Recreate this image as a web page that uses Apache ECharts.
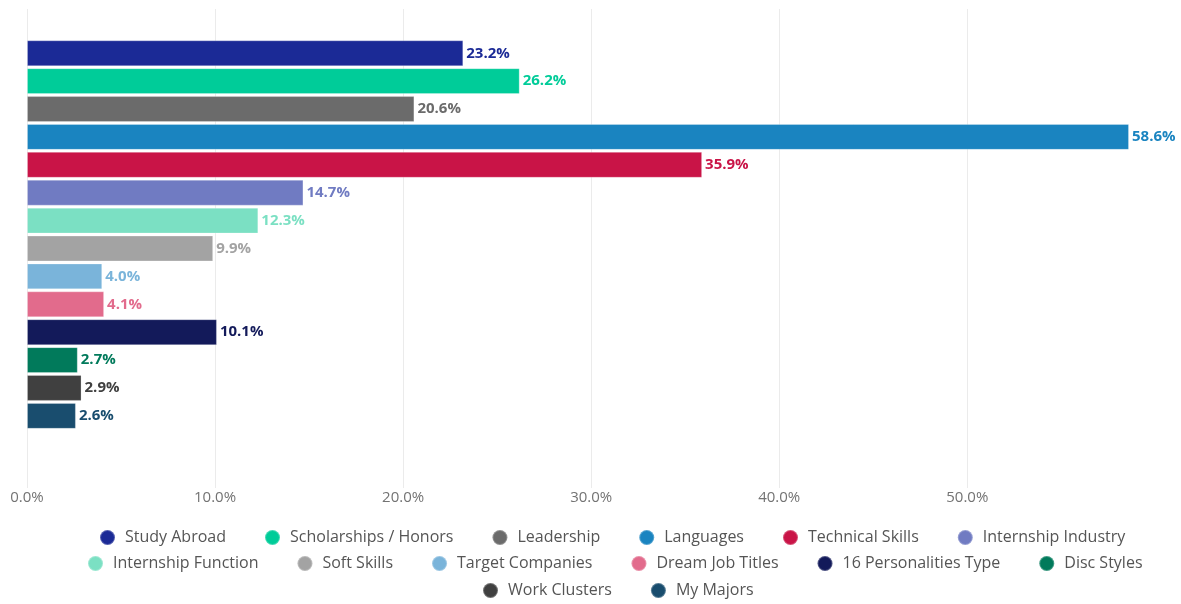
<!DOCTYPE html>
<html>
<head>
<meta charset="utf-8">
<script src="https://cdn.jsdelivr.net/npm/echarts@6/dist/echarts.min.js"></script>
<style>
html,body{margin:0;padding:0;background:#fff;}
#chart{width:1181px;height:604px;}
</style>
</head>
<body>
<div id="chart"></div>
<script>
const seriesNames = ['Study Abroad','Scholarships / Honors','Leadership','Languages','Technical Skills','Internship Industry','Internship Function','Soft Skills','Target Companies','Dream Job Titles','16 Personalities Type','Disc Styles','Work Clusters','My Majors'];
const seriesValues = [23.2, 26.2, 20.6, 58.6, 35.9, 14.7, 12.3, 9.9, 4.0, 4.1, 10.1, 2.7, 2.9, 2.6];
const seriesColors = ['#1b2a96','#00cc99','#6b6b6b','#1a84c0','#c91447','#707bc2','#7be0c3','#a3a3a3','#7ab4da','#e26b8c','#131a5a','#017a5b','#404040','#194d6e'];
const legendRows = [
  ['Study Abroad','Scholarships / Honors','Leadership','Languages','Technical Skills','Internship Industry'],
  ['Internship Function','Soft Skills','Target Companies','Dream Job Titles','16 Personalities Type','Disc Styles'],
  ['Work Clusters','My Majors']
];
const xTickStep = 10;

const FONT = '"Open Sans", "Noto Sans", sans-serif';
const chart = echarts.init(document.getElementById('chart'));

const series = seriesNames.map((name, i) => ({
  name: name,
  type: 'bar',
  data: [seriesValues[i]],
  barWidth: 25.9,
  barGap: '7.7%',
  itemStyle: { color: seriesColors[i], borderColor: 'rgba(255,255,255,0.25)', borderWidth: 1 },
  label: {
    show: true,
    position: 'right',
    distance: 3,
    formatter: p => p.value.toFixed(1) + '%',
    color: seriesColors[i],
    fontFamily: FONT,
    fontWeight: 'bold',
    fontSize: 15
  }
}));
// empty spacer slot (no legend entry)
series.push({ name: '_spacer', type: 'bar', data: [null], barWidth: 25.9, barGap: '7.7%', silent: true, itemStyle:{color:'transparent'} });

const legendLefts = [99, 87, 482];
const legendTops = [529, 555, 582];
const legends = legendRows.map((row, r) => ({
  data: row,
  left: legendLefts[r],
  top: legendTops[r],
  orient: 'horizontal',
  icon: 'circle',
  itemWidth: 25,
  itemHeight: 15,
  itemGap: 38,
  padding: 0,
  textStyle: { fontFamily: FONT, fontSize: 16, color: '#555555' }
}));

chart.setOption({
  animation: false,
  backgroundColor: '#ffffff',
  color: seriesColors,
  grid: { left: 27, right: 52, top: 9, height: 479, containLabel: false },
  legend: legends,
  xAxis: {
    type: 'value',
    min: 0,
    max: 'dataMax',
    interval: xTickStep,
    axisLine: { show: false },
    axisTick: { show: false },
    axisLabel: {
      formatter: v => v.toFixed(1) + '%',
      fontFamily: FONT,
      fontSize: 15,
      color: '#737373',
      margin: 2,
      showMaxLabel: false
    },
    splitLine: { show: true, showMaxLine: false, lineStyle: { color: '#ebebeb', width: 1 } }
  },
  yAxis: {
    type: 'category',
    data: [''],
    axisLine: { show: false },
    axisTick: { show: false },
    axisLabel: { show: false }
  },
  series: series
});
</script>
</body>
</html>
